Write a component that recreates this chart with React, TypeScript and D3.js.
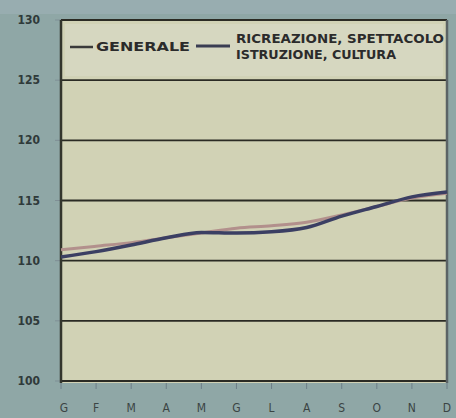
import React from "react";
import * as d3 from "d3";

const months = ["G", "F", "M", "A", "M", "G", "L", "A", "S", "O", "N", "D"];
const generale = [110.9, 111.2, 111.5, 111.9, 112.3, 112.7, 112.9, 113.2, 113.8, 114.5, 115.2, 115.6];
const ricreazione = [110.3, 110.75, 111.3, 111.9, 112.35, 112.3, 112.4, 112.75, 113.7, 114.5, 115.3, 115.7];
const yTicks = [100, 105, 110, 115, 120, 125, 130];
const legendGenerale = "GENERALE";
const legendRicreazione = ["RICREAZIONE, SPETTACOLO", "ISTRUZIONE, CULTURA"];

const W = 456;
const H = 418;
const left = 61;
const right = 447;
const top = 20;
const bottom = 381;

export default function App() {
  const x = d3.scaleLinear().domain([0, months.length - 1]).range([left, right]);
  const y = d3.scaleLinear().domain([100, 130]).range([bottom, top]);
  const line = d3
    .line<number>()
    .x((_, i) => x(i))
    .y((d) => y(d))
    .curve(d3.curveMonotoneX);

  const font = "'Liberation Sans Narrow', 'DejaVu Sans Condensed', 'Liberation Sans', sans-serif";

  return (
    <svg
      width={W}
      height={H}
      style={{ position: "absolute", left: 0, top: 0, display: "block" }}
    >
      <rect x={0} y={0} width={W} height={H} fill="#8fa7a6" />
      <rect x={0} y={0} width={W} height={14} fill="#98adb0" />
      <rect x={left} y={top} width={right - left} height={bottom + 2 - top} fill="#d1d2b5" />
      <rect x={left + 4} y={top + 4} width={right - left - 8} height={y(125) - top - 8} fill="#d6d7c0" />

      {yTicks.map((t) => (
        <g key={t}>
          <line x1={left} x2={right} y1={y(t)} y2={y(t)} stroke="#2b2b24" strokeWidth={t === 100 ? 2 : 1.8} />
          <line x1={left - 6} x2={left} y1={y(t)} y2={y(t)} stroke="#7f8f95" strokeWidth={1} />
          <text
            x={40}
            y={y(t) + 4}
            textAnchor="end"
            fontFamily={font}
            fontWeight="bold"
            fontSize={12}
            fill="#2f3a3a"
          >
            {t}
          </text>
        </g>
      ))}

      <line x1={left} x2={left} y1={top} y2={bottom + 2} stroke="#33352c" strokeWidth={2.5} />
      <line x1={right} x2={right} y1={top} y2={bottom + 2} stroke="#5b6365" strokeWidth={2.5} />

      {months.map((m, i) => (
        <g key={i}>
          <line x1={x(i)} x2={x(i)} y1={bottom + 2} y2={bottom + 8} stroke="#6e7f88" strokeWidth={1} />
          <text
            x={x(i) + (i === 0 ? 3 : 0)}
            y={412}
            textAnchor="middle"
            fontFamily={font}
            fontSize={12}
            fill="#3b4444"
          >
            {m}
          </text>
        </g>
      ))}

      <path d={line(generale) || ""} fill="none" stroke="#b2908c" strokeWidth={3} />
      <path d={line(ricreazione) || ""} fill="none" stroke="#3b3f63" strokeWidth={3.5} />

      <line x1={70} x2={93} y1={47} y2={47} stroke="#3a3a3a" strokeWidth={2.5} />
      <text x={96} y={51} fontFamily={font} fontWeight="bold" fontSize={12} fill="#2b2b2b" textLength={94} lengthAdjust="spacingAndGlyphs">
        {legendGenerale}
      </text>
      <line x1={196} x2={230} y1={46} y2={46} stroke="#3a3d52" strokeWidth={3} />
      {legendRicreazione.map((s, i) => (
        <text
          key={i}
          x={236}
          y={43 + i * 16}
          fontFamily={font}
          fontWeight="bold"
          fontSize={11.5}
          fill="#2b2b2b"
          textLength={i === 0 ? 208 : 160}
          lengthAdjust="spacingAndGlyphs"
        >
          {s}
        </text>
      ))}
    </svg>
  );
}
